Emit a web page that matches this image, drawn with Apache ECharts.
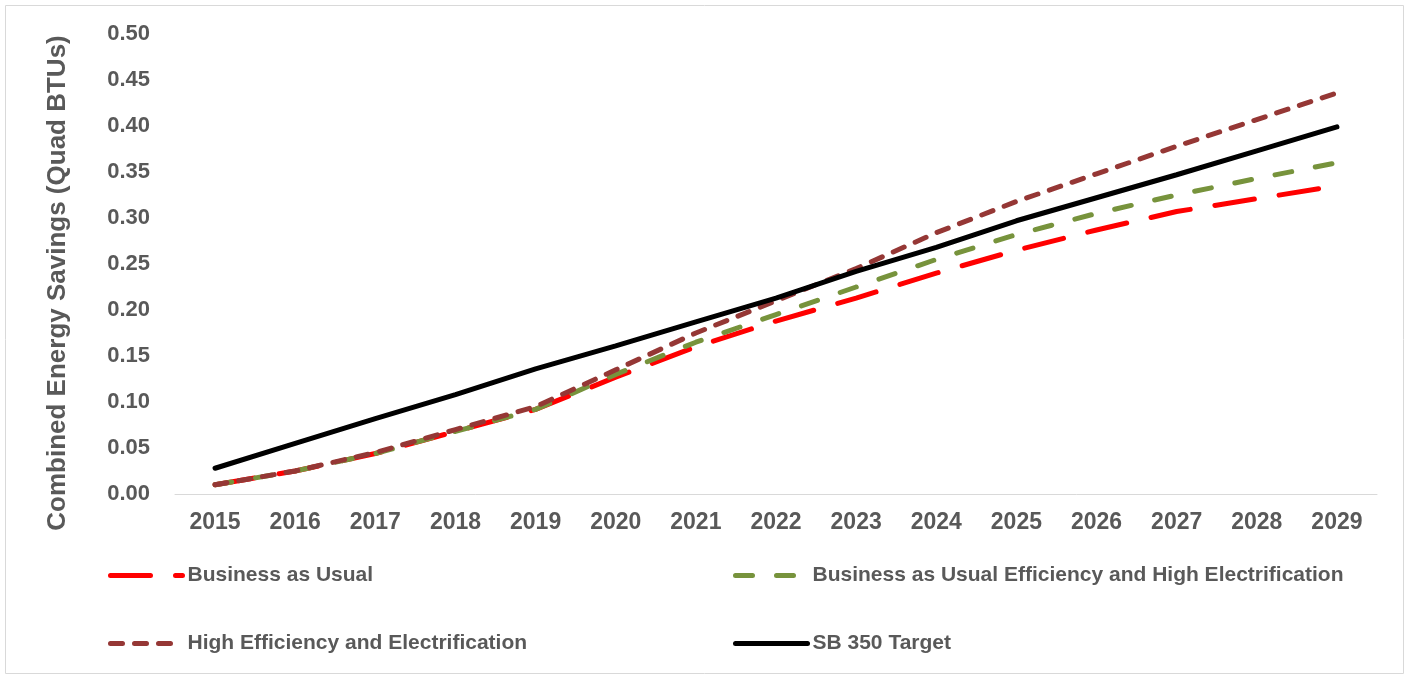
<!DOCTYPE html>
<html><head><meta charset="utf-8">
<script src="https://cdn.jsdelivr.net/npm/echarts@6/dist/echarts.min.js"></script>
<style>html,body{margin:0;padding:0;background:#fff}#c{width:1408px;height:677px}</style>
</head><body><div id="c"></div>
<script>
const years = ['2015','2016','2017','2018','2019','2020','2021','2022','2023','2024','2025','2026','2027','2028','2029'];
const bau = [0.010,0.025,0.044,0.068,0.092,0.127,0.160,0.188,0.213,0.240,0.265,0.287,0.307,0.321,0.335];
const bauEffHighElec = [0.010,0.025,0.044,0.068,0.092,0.130,0.165,0.195,0.225,0.255,0.282,0.305,0.325,0.343,0.360];
const highEffElec = [0.010,0.025,0.045,0.070,0.095,0.135,0.175,0.210,0.245,0.284,0.318,0.348,0.378,0.407,0.436];
const sb350 = [0.028,0.055,0.082,0.108,0.136,0.161,0.187,0.213,0.242,0.268,0.297,0.322,0.347,0.373,0.399];
const yTicks = {min:0, max:0.5, interval:0.05};

const txt = '#595959';
const font = 'Liberation Sans, Arial, sans-serif';
const chart = echarts.init(document.getElementById('c'));
function lg(name, left, top, w){
  return {data:[name], left:left, top:top, itemWidth:w, itemHeight:14, itemGap:0,
    itemStyle:{opacity:0}, lineStyle:{width:5, cap:'round'},
    textStyle:{color:txt, fontSize:21, fontWeight:'bold', fontFamily:font}, selectedMode:false};
}
chart.setOption({
  animation:false,
  textStyle:{fontFamily:font},
  graphic:[{type:'rect', shape:{x:5.5,y:5.5,width:1398,height:668}, style:{fill:'none', stroke:'#d9d9d9', lineWidth:1}, silent:true}],
  legend:[
    lg('Business as Usual', 103, 560, 72),
    lg('Business as Usual Efficiency and High Electrification', 728, 560, 72),
    lg('High Efficiency and Electrification', 103, 628, 72),
    lg('SB 350 Target', 728, 628, 72)
  ],
  grid:{left:175, right:31, top:34, bottom:183},
  xAxis:{type:'category', data:years, boundaryGap:true,
    axisLine:{lineStyle:{color:'#d9d9d9', width:1}}, axisTick:{show:false},
    axisLabel:{color:txt, fontSize:23, fontWeight:'bold', margin:17, fontFamily:font}},
  yAxis:{type:'value', min:yTicks.min, max:yTicks.max, interval:yTicks.interval,
    name:'Combined Energy Savings (Quad BTUs)', nameLocation:'middle', nameGap:104,
    nameTextStyle:{color:txt, fontSize:26, fontWeight:'bold', fontFamily:font, padding:[0,38,0,0]},
    splitLine:{show:false}, axisLine:{show:false}, axisTick:{show:false},
    axisLabel:{color:txt, fontSize:22, fontWeight:'bold', margin:25, fontFamily:font,
      formatter:v=>v.toFixed(2)}},
  series:[
    {name:'Business as Usual', type:'line', data:bau, symbol:'none', color:'#ff0000', z:2,
      lineStyle:{width:5, color:'#ff0000', type:[40,25], cap:'round'}},
    {name:'Business as Usual Efficiency and High Electrification', type:'line', data:bauEffHighElec, symbol:'none', color:'#77933c', z:3,
      lineStyle:{width:5, color:'#77933c', type:[17,24], cap:'round'}},
    {name:'High Efficiency and Electrification', type:'line', data:highEffElec, symbol:'none', color:'#953735', z:4,
      lineStyle:{width:5, color:'#953735', type:[12,12], cap:'round'}},
    {name:'SB 350 Target', type:'line', data:sb350, symbol:'none', color:'#000000', z:5,
      lineStyle:{width:5, color:'#000000', cap:'round'}}
  ]
});
</script></body></html>
